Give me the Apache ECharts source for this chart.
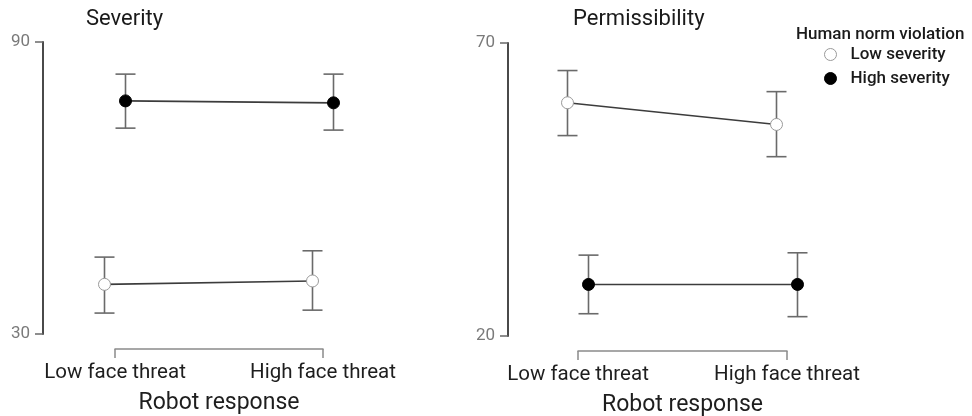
<!DOCTYPE html>
<html>
<head>
<meta charset="utf-8">
<script src="https://cdn.jsdelivr.net/npm/echarts@6/dist/echarts.min.js"></script>
<style>
  html, body { margin: 0; padding: 0; background: #fff; }
  #chart { width: 972px; height: 416px; }
</style>
</head>
<body>
<div id="chart"></div>
<script>
// Robot response conditions on the x axis
const categories = ['Low face threat', 'High face threat'];

// Severity ratings (mean, lower and upper error bound)
const sevLowMean = [40.2, 40.9];
const sevLowLower = [34.3, 34.9];
const sevLowUpper = [45.8, 47.1];
const sevHighMean = [77.9, 77.5];
const sevHighLower = [72.3, 71.9];
const sevHighUpper = [83.4, 83.4];

// Permissibility ratings (mean, lower and upper error bound)
const perLowMean = [59.8, 56.1];
const perLowLower = [54.2, 50.6];
const perLowUpper = [65.3, 61.7];
const perHighMean = [28.8, 28.8];
const perHighLower = [23.8, 23.3];
const perHighUpper = [33.8, 34.2];

// Y axis tick labels for each panel
const sevTicks = [30, 90];
const perTicks = [20, 70];

const FONT = 'Roboto';
const chart = echarts.init(document.getElementById('chart'));

function rows(mean, lower, upper) {
  return mean.map((m, i) => [i, m, lower[i], upper[i]]);
}

// Draws connecting line, error bar and point marker, shifted sideways by dx pixels
function makeRender(mean, dx, fill, stroke) {
  return function (params, api) {
    const i = params.dataIndex;
    const p = api.coord([api.value(0), api.value(1)]);
    const lo = api.coord([api.value(0), api.value(2)]);
    const hi = api.coord([api.value(0), api.value(3)]);
    const x = p[0] + dx;
    const cap = 10;
    const children = [];
    if (i + 1 < mean.length) {
      const q = api.coord([i + 1, mean[i + 1]]);
      children.push({
        type: 'line',
        shape: { x1: x, y1: p[1], x2: q[0] + dx, y2: q[1] },
        style: { stroke: '#3c3c3c', lineWidth: 1.6 }
      });
    }
    const barStyle = { stroke: '#6a6a6a', lineWidth: 1.6 };
    children.push({ type: 'line', shape: { x1: x, y1: lo[1], x2: x, y2: hi[1] }, style: barStyle });
    children.push({ type: 'line', shape: { x1: x - cap, y1: lo[1], x2: x + cap, y2: lo[1] }, style: barStyle });
    children.push({ type: 'line', shape: { x1: x - cap, y1: hi[1], x2: x + cap, y2: hi[1] }, style: barStyle });
    children.push({
      type: 'circle',
      shape: { cx: x, cy: p[1], r: 6 },
      style: { fill: fill, stroke: stroke, lineWidth: 1 }
    });
    return { type: 'group', children: children };
  };
}

function series(name, axisIndex, mean, lower, upper, dx, fill, stroke) {
  return {
    name: name,
    type: 'custom',
    xAxisIndex: axisIndex,
    yAxisIndex: axisIndex,
    clip: false,
    itemStyle: { color: fill, borderColor: stroke },
    encode: { x: 0, y: [1, 2, 3] },
    data: rows(mean, lower, upper),
    renderItem: makeRender(mean, dx, fill, stroke)
  };
}

function xAxis(gridIndex) {
  return {
    type: 'category',
    gridIndex: gridIndex,
    data: categories,
    boundaryGap: false,
    offset: 15,
    axisLine: { lineStyle: { color: '#8a8a8a', width: 1.5 } },
    axisTick: { show: true, length: 9, lineStyle: { color: '#8a8a8a', width: 1.5 } },
    axisLabel: { margin: 13, fontFamily: FONT, fontSize: 20.5, color: '#1e1e1e' },
    name: 'Robot response',
    nameLocation: 'middle',
    nameGap: 43,
    nameTextStyle: { fontFamily: FONT, fontSize: 23, color: '#1e1e1e' },
    splitLine: { show: false }
  };
}

function yAxis(gridIndex, ticks, offset) {
  return {
    type: 'value',
    gridIndex: gridIndex,
    min: ticks[0],
    max: ticks[ticks.length - 1],
    offset: offset,
    axisLine: { show: true, lineStyle: { color: '#4a4a4a', width: 2 } },
    axisTick: { show: true, length: 8, customValues: ticks, lineStyle: { color: '#6a6a6a', width: 1.5 } },
    axisLabel: { margin: 13, customValues: ticks, fontFamily: FONT, fontSize: 17, color: '#7a7a7a' },
    splitLine: { show: false }
  };
}

const titleStyle = { fontFamily: FONT, fontSize: 22, fontWeight: 'normal', color: '#1a1a1a' };

const option = {
  backgroundColor: '#fff',
  animation: false,
  title: [
    { text: 'Severity', left: 86, top: 8, padding: 0, textStyle: titleStyle },
    { text: 'Permissibility', left: 573, top: 8, padding: 0, textStyle: titleStyle },
    { text: 'Human norm violation', left: 796, top: 26, padding: 0, textStyle: { fontFamily: FONT, fontSize: 17, fontWeight: 500, color: '#1a1a1a' } }
  ],
  legend: {
    orient: 'vertical',
    left: 824,
    top: 46,
    padding: 0,
    itemWidth: 12,
    itemHeight: 12,
    itemGap: 7,
    selectedMode: false,
    textStyle: { fontFamily: FONT, fontSize: 17, fontWeight: 500, color: '#1a1a1a', lineHeight: 16, padding: [0, 0, 0, 9] },
    data: [
      { name: 'Low severity', icon: 'circle', itemStyle: { color: '#fff', borderColor: '#9a9a9a', borderWidth: 1 } },
      { name: 'High severity', icon: 'circle', itemStyle: { color: '#000', borderColor: '#000', borderWidth: 1 } }
    ]
  },
  grid: [
    { left: 115, top: 42, width: 208, height: 292, outerBoundsMode: 'none', containLabel: false },
    { left: 578, top: 43, width: 209, height: 293, outerBoundsMode: 'none', containLabel: false }
  ],
  xAxis: [xAxis(0), xAxis(1)],
  yAxis: [yAxis(0, sevTicks, 72), yAxis(1, perTicks, 70)],
  series: [
    series('Low severity', 0, sevLowMean, sevLowLower, sevLowUpper, -10.5, '#ffffff', '#9a9a9a'),
    series('High severity', 0, sevHighMean, sevHighLower, sevHighUpper, 10.5, '#000000', '#000000'),
    series('Low severity', 1, perLowMean, perLowLower, perLowUpper, -10.5, '#ffffff', '#9a9a9a'),
    series('High severity', 1, perHighMean, perHighLower, perHighUpper, 10.5, '#000000', '#000000')
  ]
};

chart.setOption(option);
</script>
</body>
</html>
